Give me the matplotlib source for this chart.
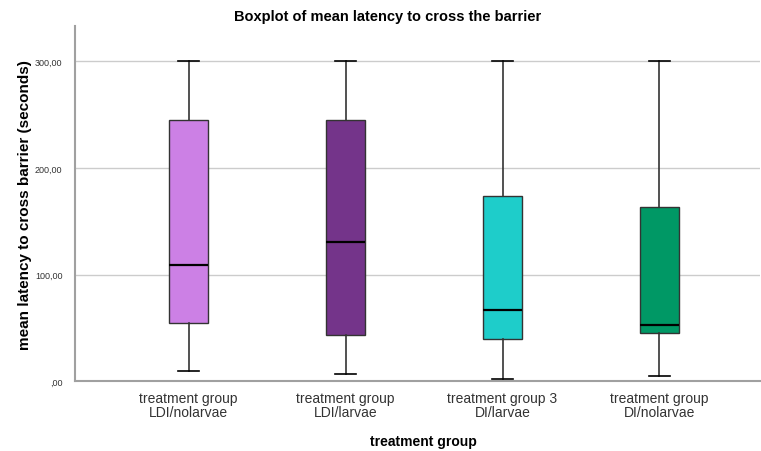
import matplotlib
matplotlib.use("Agg")
import matplotlib.pyplot as plt

plt.rcParams['font.family'] = ['Liberation Sans', 'DejaVu Sans']

# box statistics per treatment group (seconds)
groups = ["treatment group\nLDI/nolarvae", "treatment group\nLDI/larvae",
          "treatment group 3\nDI/larvae", "treatment group\nDI/nolarvae"]
whisker_low = [9.8, 6.7, 2.1, 5.4]
q1 = [55.1, 43.3, 39.8, 45.7]
median = [108.8, 130.3, 66.7, 52.9]
q3 = [244.9, 244.9, 173.4, 163.7]
whisker_high = [300.0, 300.0, 300.0, 300.0]
colors = ["#cc80e5", "#74348a", "#1ecdca", "#009865"]

stats = []
for i, g in enumerate(groups):
    stats.append({"label": g, "whislo": whisker_low[i], "q1": q1[i], "med": median[i],
                  "q3": q3[i], "whishi": whisker_high[i], "fliers": []})

fig = plt.figure(figsize=(7.61, 4.52), dpi=100)
ax = fig.add_axes([0.0986, 0.1538, 0.9, 0.7865])

positions = [1, 2, 3, 4]
bp = ax.bxp(stats, positions=positions, widths=0.25, patch_artist=True, showfliers=False,
            boxprops=dict(edgecolor="#333333", linewidth=1.0),
            medianprops=dict(color="black", linewidth=1.6),
            whiskerprops=dict(color="#333333", linewidth=1.2),
            capprops=dict(color="black", linewidth=1.2),
            capwidths=0.13, zorder=3)
for patch, c in zip(bp["boxes"], colors):
    patch.set_facecolor(c)

ax.set_xlim(0.276, 4.64)
ax.set_ylim(0, 333)
ax.set_yticks([0, 100, 200, 300])
ax.set_yticklabels([",00", "100,00", "200,00", "300,00"], fontsize=6.5, color="#333333")
ax.set_xticks(positions)
ax.set_xticklabels(groups, fontsize=10, color="#333333", linespacing=1.0)
ax.tick_params(length=0, pad=7)
ax.tick_params(axis="y", pad=9)

ax.yaxis.grid(True, color="#cccccc", linewidth=1.0, zorder=0)
ax.set_axisbelow(True)
for s in ["top", "right"]:
    ax.spines[s].set_visible(False)
for s in ["left", "bottom"]:
    ax.spines[s].set_color("#a0a0a0")
    ax.spines[s].set_linewidth(1.5)

ax.set_ylabel("mean latency to cross barrier (seconds)", fontsize=11, fontweight="bold", va="center")
ax.yaxis.set_label_coords(-0.0735, 0.5)
ax.set_xlabel("treatment group", fontsize=10, fontweight="bold", va="center")
ax.xaxis.set_label_coords(0.508, -0.1676)
fig.text(0.51, 0.962, "Boxplot of mean latency to cross the barrier", ha="center", va="center",
         fontsize=10.5, fontweight="bold")

fig.savefig("out.png", dpi=100)
